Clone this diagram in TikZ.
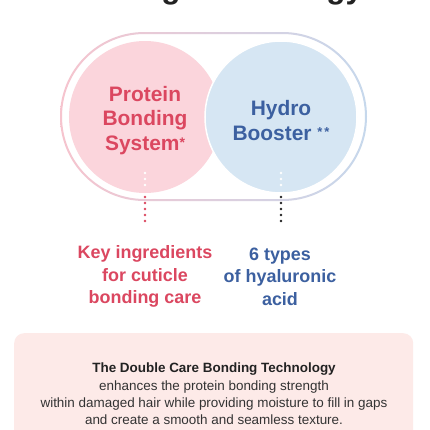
\documentclass[tikz,border=0pt]{standalone}
\usepackage{fontspec}
\setmainfont{Liberation Sans}
\definecolor{pinkfill}{HTML}{FBD5DC}
\definecolor{bluefill}{HTML}{D6E6F3}
\definecolor{pinktext}{HTML}{DB4760}
\definecolor{bluetext}{HTML}{3C60A0}
\definecolor{ringpink}{HTML}{F6C4CE}
\definecolor{ringblue}{HTML}{C6D8EC}
\definecolor{boxfill}{HTML}{FDEAE8}
\definecolor{darktext}{HTML}{222222}
\definecolor{desctext}{HTML}{333333}
\tikzset{
  bigcircle/.style={circle, inner sep=0pt, minimum size=152bp},
  circtext/.style={align=center, inner sep=0pt, font=\bfseries\fontsize{21}{25}\selectfont},
  sublabel/.style={align=center, inner sep=0pt, font=\bfseries\fontsize{18}{22.5}\selectfont},
  dotline/.style={line width=2.6bp, line cap=round, dash pattern=on 0pt off 6bp},
}
\begin{document}
\begin{tikzpicture}[x=1bp,y=-1bp]
\useasboundingbox (0,0) rectangle (430,430);
\begin{scope}
\clip (0,0) rectangle (430,430);
\fill[white] (0,0) rectangle (430,430);
% cut-off title
\node[anchor=base west, inner sep=0pt, text=darktext,
      font=\bfseries\fontsize{31.5}{31.5}\selectfont] (title) at (53,-1.5) {Bonding Technology};
% stadium ring
\shade[left color=ringpink, right color=ringblue, even odd rule]
  [rounded corners=84.5bp] (60,32) rectangle (367,201)
  [rounded corners=82.5bp] (62,34) rectangle (365,199);
% circles
\node[bigcircle, fill=pinkfill] (pbs) at (145,117) {};
\node[bigcircle, fill=bluefill, draw=white, line width=1.5bp] (hb) at (281,117) {};
\node[circtext, text=pinktext] (pbstext) at (145,120.5)
  {Protein\\Bonding\\System{\fontsize{14}{14}\selectfont\raisebox{3bp}{*}}};
\node[circtext, text=bluetext] (hbtext) at (281,120.5)
  {Hydro\\Booster {\fontsize{13}{13}\selectfont\raisebox{4bp}{*\kern2bp*}}};
% labels
\node[sublabel, text=pinktext] (pkey) at (145,276.5) {Key ingredients\\for cuticle\\bonding care};
\node[sublabel, text=bluetext] (bkey) at (280,276.5) {6 types\\of hyaluronic\\acid};
% dotted connectors
\coordinate (pw1) at (145,173);
\coordinate (pw2) at (145,191);
\coordinate (pc1) at (145,197);
\coordinate (pc2) at (145,227);
\coordinate (bw1) at (281,173);
\coordinate (bw2) at (281,191);
\coordinate (bc1) at (281,197);
\coordinate (bc2) at (281,227);
\draw[dotline, white] (pw1) -- (pw2);
\draw[dotline, pinktext] (pc1) -- (pc2);
\draw[dotline, white] (bw1) -- (bw2);
\draw[dotline, darktext] (bc1) -- (bc2);
% bottom box
\node[anchor=north west, fill=boxfill, rounded corners=10bp, inner sep=0pt,
      minimum width=399bp, minimum height=120bp] (box) at (14,333) {};
\node[align=center, inner sep=0pt, text=desctext,
      font=\fontsize{13.5}{17.3}\selectfont] (desc) at (214,394)
  {{\bfseries\color{darktext}The Double Care Bonding Technology}\\
   enhances the protein bonding strength\\
   within damaged hair while providing moisture to fill in gaps\\
   and create a smooth and seamless texture.};
\end{scope}
\end{tikzpicture}
\end{document}
